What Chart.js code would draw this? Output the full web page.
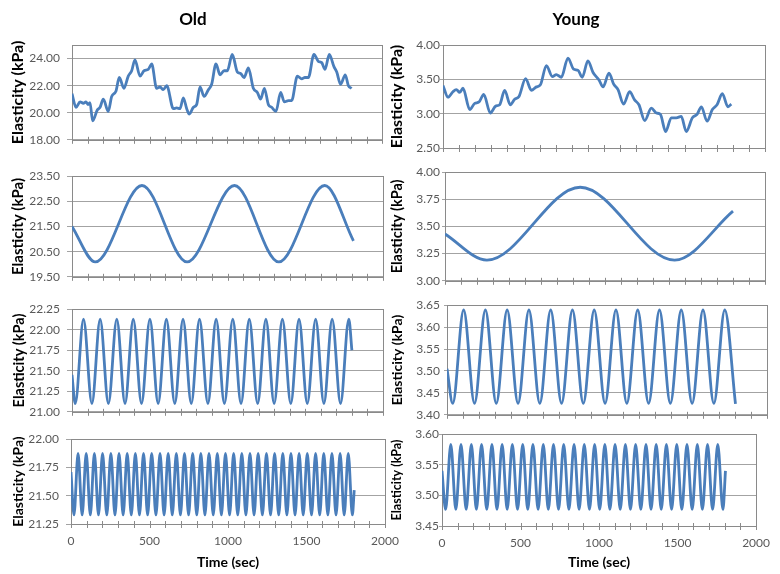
<!DOCTYPE html>
<html><head><meta charset="utf-8">
<script src="https://cdn.jsdelivr.net/npm/chart.js@4.4.1/dist/chart.umd.min.js"></script>
<style>
html,body{margin:0;padding:0;background:#fff;}
#wrap{position:relative;width:780px;height:574px;overflow:hidden;background:#fff;}
#wrap canvas{position:absolute;}
</style></head><body><div id="wrap"></div>
<script>
// ---------- data ----------
const columnTitles = ['Old', 'Young'];
const xTickLabels = [0, 500, 1000, 1500, 2000];
const yAxisTitle = 'Elasticity (kPa)';
const xAxisTitle = 'Time (sec)';

// Row 1: raw recordings
const oldRawTime = [0,26,52,73,90,103,116,133,163,181,202,234,256,284,305,335,363,385,406,439,465,492,514,546,568,589,611,654,675,697,718,740,757,783,804,826,852,880,901,929,955,981,1002,1034,1067,1088,1110,1138,1170,1196,1217,1241,1267,1288,1316,1346,1370,1396,1417,1454,1482,1503,1525,1561,1589,1611,1632,1660,1690,1708,1733,1763,1783,1804];
const oldRawVal = [21.4,20.4,20.8,20.7,20.8,20.6,20.75,19.4,20.2,20.4,21.0,20.1,21.2,21.6,22.6,21.8,22.7,23.1,23.9,22.7,23.1,23.2,23.6,21.8,21.9,21.7,22.0,20.3,20.35,20.3,21.1,20.3,19.9,20.4,20.6,21.9,21.2,21.7,22.1,23.6,22.8,23.1,23.1,24.3,23.0,22.9,22.6,23.3,21.8,21.5,21.0,21.8,20.6,20.4,20.1,21.5,20.8,20.9,20.9,22.7,22.5,22.6,22.6,24.3,23.8,23.7,23.2,24.3,23.4,23.0,22.1,22.8,22.0,21.8];
const youngRawTime = [0,31,62,83,104,124,166,197,224,253,294,327,352,383,418,445,472,513,549,580,605,642,679,704,735,776,811,839,865,900,932,969,994,1031,1060,1087,1122,1159,1190,1217,1253,1294,1325,1350,1383,1418,1449,1480,1511,1549,1578,1605,1640,1673,1702,1735,1770,1791];
const youngRawVal = [3.41,3.24,3.32,3.35,3.31,3.37,3.06,3.15,3.17,3.28,3.01,3.11,3.13,3.34,3.13,3.21,3.25,3.51,3.34,3.39,3.42,3.70,3.54,3.57,3.53,3.81,3.65,3.63,3.53,3.77,3.60,3.49,3.39,3.59,3.43,3.35,3.14,3.32,3.20,3.13,2.90,3.08,3.01,2.99,2.74,2.94,2.94,2.96,2.74,2.94,2.99,3.10,2.89,3.06,3.13,3.29,3.10,3.14];

// Row 2: slow component (turning points)
const oldSlowTime = [0,150,450,740,1045,1330,1625,1810];
const oldSlowVal = [21.5,20.09,23.13,20.09,23.13,20.09,23.13,20.93];
const youngSlowTime = [0,262,845,1435,1800];
const youngSlowVal = [3.43,3.19,3.86,3.19,3.64];

// Row 3: middle component (turning points)
const oldMidTime = [0,21,74,128,181,234,288,341,394,447,501,554,607,661,714,767,820,874,927,980,1034,1087,1140,1194,1247,1300,1353,1407,1460,1513,1567,1620,1673,1727,1780,1800];
const oldMidVal = [21.45,21.10,22.13,21.10,22.13,21.10,22.13,21.10,22.13,21.10,22.13,21.10,22.13,21.10,22.13,21.10,22.13,21.10,22.13,21.10,22.13,21.10,22.13,21.10,22.13,21.10,22.13,21.10,22.13,21.10,22.13,21.10,22.13,21.10,22.13,21.75];
const youngMidTime = [0,36,104,172,240,308,376,444,512,580,648,716,784,852,920,988,1056,1124,1192,1260,1328,1396,1464,1532,1600,1668,1736,1803];
const youngMidVal = [3.505,3.426,3.639,3.426,3.639,3.426,3.639,3.426,3.639,3.426,3.639,3.426,3.639,3.426,3.639,3.426,3.639,3.426,3.639,3.426,3.639,3.426,3.639,3.426,3.639,3.426,3.639,3.425];

// Row 4: fast component (turning points)
const oldFastTime = [0,19,45,71,97,123,149,175,201,228,254,280,306,332,358,384,410,436,462,488,514,541,567,593,619,645,671,697,723,749,775,801,827,853,879,906,932,958,984,1010,1036,1062,1088,1114,1140,1166,1192,1219,1245,1271,1297,1323,1349,1375,1401,1427,1453,1479,1505,1532,1558,1584,1610,1636,1662,1688,1714,1740,1766,1792,1804];
const oldFastVal = [21.71,21.33,21.875,21.33,21.875,21.33,21.875,21.33,21.875,21.33,21.875,21.33,21.875,21.33,21.875,21.33,21.875,21.33,21.875,21.33,21.875,21.33,21.875,21.33,21.875,21.33,21.875,21.33,21.875,21.33,21.875,21.33,21.875,21.33,21.875,21.33,21.875,21.33,21.875,21.33,21.875,21.33,21.875,21.33,21.875,21.33,21.875,21.33,21.875,21.33,21.875,21.33,21.875,21.33,21.875,21.33,21.875,21.33,21.875,21.33,21.875,21.33,21.875,21.33,21.875,21.33,21.875,21.33,21.875,21.33,21.55];
const youngFastTime = [0,23,56,88,121,154,187,219,252,285,318,350,383,415,448,481,514,546,579,612,645,677,710,742,775,808,841,873,906,939,972,1004,1037,1069,1102,1135,1168,1200,1233,1266,1299,1331,1364,1396,1429,1462,1495,1527,1560,1593,1626,1658,1691,1723,1756,1789,1805];
const youngFastVal = [3.54,3.477,3.583,3.477,3.583,3.477,3.583,3.477,3.583,3.477,3.583,3.477,3.583,3.477,3.583,3.477,3.583,3.477,3.583,3.477,3.583,3.477,3.583,3.477,3.583,3.477,3.583,3.477,3.583,3.477,3.583,3.477,3.583,3.477,3.583,3.477,3.583,3.477,3.583,3.477,3.583,3.477,3.583,3.477,3.583,3.477,3.583,3.477,3.583,3.477,3.583,3.477,3.583,3.477,3.583,3.477,3.54];

// y axis ranges [min, max, step]
const oldRawAxis = [18, 25, 2];
const youngRawAxis = [2.5, 4.0, 0.5];
const oldSlowAxis = [19.5, 23.5, 1];
const youngSlowAxis = [3.0, 4.0, 0.25];
const oldMidAxis = [21.0, 22.25, 0.25];
const youngMidAxis = [3.40, 3.65, 0.05];
const oldFastAxis = [21.25, 22.0, 0.25];
const youngFastAxis = [3.45, 3.60, 0.05];

// ---------- styling / layout ----------
const FONT = "Lato, 'Open Sans', 'DejaVu Sans', sans-serif";
const LINE = '#4a7ebb';
const GRID = '#a3a3a3';
const FRAME = '#8a8a8a';
const TICKTXT = '#595959';

const panels = [
  {time: oldRawTime, val: oldRawVal, axis: oldRawAxis, title: columnTitles[0], box: [0, 0, 390, 154], pad: {left: 4, right: 8, top: 0, bottom: 8}, yW: 68, ytSize: 16, ytPad: 4.4, tl: 5, tp: 7},
  {time: youngRawTime, val: youngRawVal, axis: youngRawAxis, title: columnTitles[1], box: [380, 0, 400, 156], pad: {left: 7, right: 15, top: 0, bottom: 8}, yW: 56, ytSize: 16, ytPad: 0, tl: 3, tp: 0},
  {time: oldSlowTime, val: oldSlowVal, axis: oldSlowAxis, box: [0, 162, 420, 129], pad: {left: 0, right: 37, top: 10, bottom: 8}, yW: 72, ytSize: 15, ytPad: 9, tl: 5, tp: 7},
  {time: youngSlowTime, val: youngSlowVal, axis: youngSlowAxis, box: [380, 162, 400, 128], pad: {left: 0, right: 15, top: 10, bottom: 8}, yW: 65, ytSize: 14.5, ytPad: 8.3, tl: 3, tp: 2},
  {time: oldMidTime, val: oldMidVal, axis: oldMidAxis, box: [0, 295, 420, 131], pad: {left: 0, right: 37, top: 10, bottom: 8}, yW: 72, ytSize: 14.5, ytPad: 11, tl: 5, tp: 7},
  {time: youngMidTime, val: youngMidVal, axis: youngMidAxis, box: [380, 294, 400, 132], pad: {left: 0, right: 13, top: 10, bottom: 8}, yW: 67, ytSize: 14, ytPad: 8.6, tl: 3, tp: 4},
  {time: oldFastTime, val: oldFastVal, axis: oldFastAxis, box: [0, 425, 420, 149], pad: {left: 0, right: 35, top: 10, bottom: 0}, yW: 71, xH: 50, ytSize: 14, ytPad: 9.6, tl: 5, tp: 7, bottomAxis: true},
  {time: youngFastTime, val: youngFastVal, axis: youngFastAxis, box: [380, 424, 400, 150], pad: {left: 0, right: 15, top: 10, bottom: 0}, yW: 62, xH: 48, ytSize: 12.5, ytPad: 9.5, tl: 3, tp: 0, bottomAxis: true}
];

const framePlugin = {
  id: 'frame',
  beforeDatasetsDraw(chart) {
    const {ctx, chartArea: a} = chart;
    ctx.save();
    ctx.strokeStyle = FRAME;
    ctx.lineWidth = 1;
    ctx.strokeRect(Math.round(a.left) + 0.5, Math.round(a.top) + 0.5, Math.round(a.right - a.left), Math.round(a.bottom - a.top));
    const xs = chart.scales.x;
    ctx.beginPath();
    xs.ticks.forEach(t => {
      const px = Math.round(xs.getPixelForValue(t.value)) + 0.5;
      ctx.moveTo(px, a.bottom - 3);
      ctx.lineTo(px, a.bottom + 4);
    });
    ctx.stroke();
    ctx.restore();
  }
};

const wrap = document.getElementById('wrap');
panels.forEach(p => {
  const [l, t, w, h] = p.box;
  const c = document.createElement('canvas');
  c.width = w; c.height = h;
  c.style.left = l + 'px'; c.style.top = t + 'px';
  c.style.width = w + 'px'; c.style.height = h + 'px';
  wrap.appendChild(c);
  const [yMin, yMax, yStep] = p.axis;
  const pts = p.time.map((tt, i) => ({x: tt, y: p.val[i]}));
  new Chart(c.getContext('2d'), {
    type: 'line',
    data: {datasets: [{data: pts, borderColor: LINE, borderWidth: 2.8, pointRadius: 0, cubicInterpolationMode: 'monotone', fill: false}]},
    options: {
      responsive: false, animation: false, devicePixelRatio: 1, events: [],
      layout: {padding: p.pad},
      plugins: {
        legend: {display: false}, tooltip: {enabled: false},
        title: p.title ? {display: true, text: p.title, color: '#000', font: {family: FONT, size: 17, weight: 'bold'}, padding: {top: 9, bottom: 15.6}} : {display: false}
      },
      scales: {
        x: {
          type: 'linear', min: 0, max: 2000,
          grid: {display: false, drawTicks: false},
          border: {display: false},
          ticks: {
            display: !!p.bottomAxis, stepSize: 100, autoSkip: false, maxRotation: 0, minRotation: 0,
            padding: 10, color: TICKTXT, font: {family: FONT, size: 12},
            callback: v => xTickLabels.includes(v) ? String(v) : ''
          },
          title: p.bottomAxis ? {display: true, text: xAxisTitle, color: '#000', font: {family: FONT, size: 14, weight: 'bold'}, padding: {top: 0, bottom: 3}} : {display: false},
          afterFit: s => { s.height = p.xH || 0; }
        },
        y: {
          type: 'linear', min: yMin, max: yMax,
          grid: {color: GRID, lineWidth: 1, drawTicks: true, tickLength: p.tl, tickColor: GRID},
          border: {display: false},
          ticks: {
            stepSize: yStep, autoSkip: false, padding: p.tp, color: TICKTXT,
            font: {family: FONT, size: 12},
            callback: v => Number(v).toFixed(2)
          },
          afterBuildTicks: s => {
            s.ticks = s.ticks.filter(tk => {
              const k = (tk.value - yMin) / yStep;
              return Math.abs(k - Math.round(k)) < 1e-6;
            });
          },
          title: {display: true, text: yAxisTitle, color: '#000', font: {family: FONT, size: p.ytSize, weight: 'bold'}, padding: {top: p.ytPad, bottom: 0}},
          afterFit: s => { s.width = p.yW; }
        }
      }
    },
    plugins: [framePlugin]
  });
});
</script>
</body></html>
